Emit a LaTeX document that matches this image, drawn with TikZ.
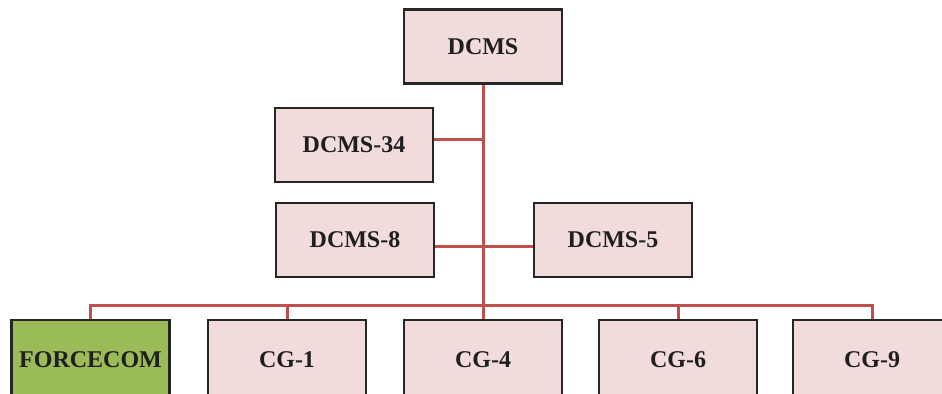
\documentclass[tikz,border=0pt]{standalone}
\usepackage{fontspec}
\setmainfont{Liberation Serif}
\usetikzlibrary{calc}
\definecolor{boxpink}{HTML}{F2DCDB}
\definecolor{boxgreen}{HTML}{9BBB59}
\definecolor{linkred}{HTML}{C0504D}
\definecolor{edgegray}{HTML}{262626}
\tikzset{
  unit/.style={draw=edgegray, line width=1.1pt, fill=boxpink, minimum width=79pt, minimum height=37pt,
    inner sep=0pt, text=black!88, font=\fontsize{12}{14}\selectfont\bfseries},
  base/.style={unit, minimum height=40pt},
  link/.style={draw=linkred, line width=1.5pt}
}
\begin{document}
\begin{tikzpicture}[x=0.5pt,y=0.5pt]
\useasboundingbox (0,0) rectangle (942,393);
\node[unit] (dcms) at (483,346.5) {DCMS};
\node[unit] (d34) at (354,248) {DCMS-34};
\node[unit] (d8) at (355,153) {DCMS-8};
\node[unit] (d5) at (613,153) {DCMS-5};
\node[base, fill=boxgreen] (forcecom) at (90.5,33) {FORCECOM};
\node[base] (cg1) at (287,33) {CG-1};
\node[base] (cg4) at (483,33) {CG-4};
\node[base] (cg6) at (678,33) {CG-6};
\node[base] (cg9) at (872,33) {CG-9};
\draw[link] (dcms.south) -- (cg4.north);
\draw[link] ([yshift=3pt]d34.east) -- ([yshift=3pt]d34.east -| dcms.south);
\draw[link] ([yshift=-3pt]d8.east) -- ([yshift=-3pt]d5.west);
\draw[link] (forcecom.north) -- ++(0,6.5pt) -| (cg9.north);
\foreach \n in {cg1,cg6}
  \draw[link] (\n.north) -- ++(0,6.5pt);
\end{tikzpicture}
\end{document}
